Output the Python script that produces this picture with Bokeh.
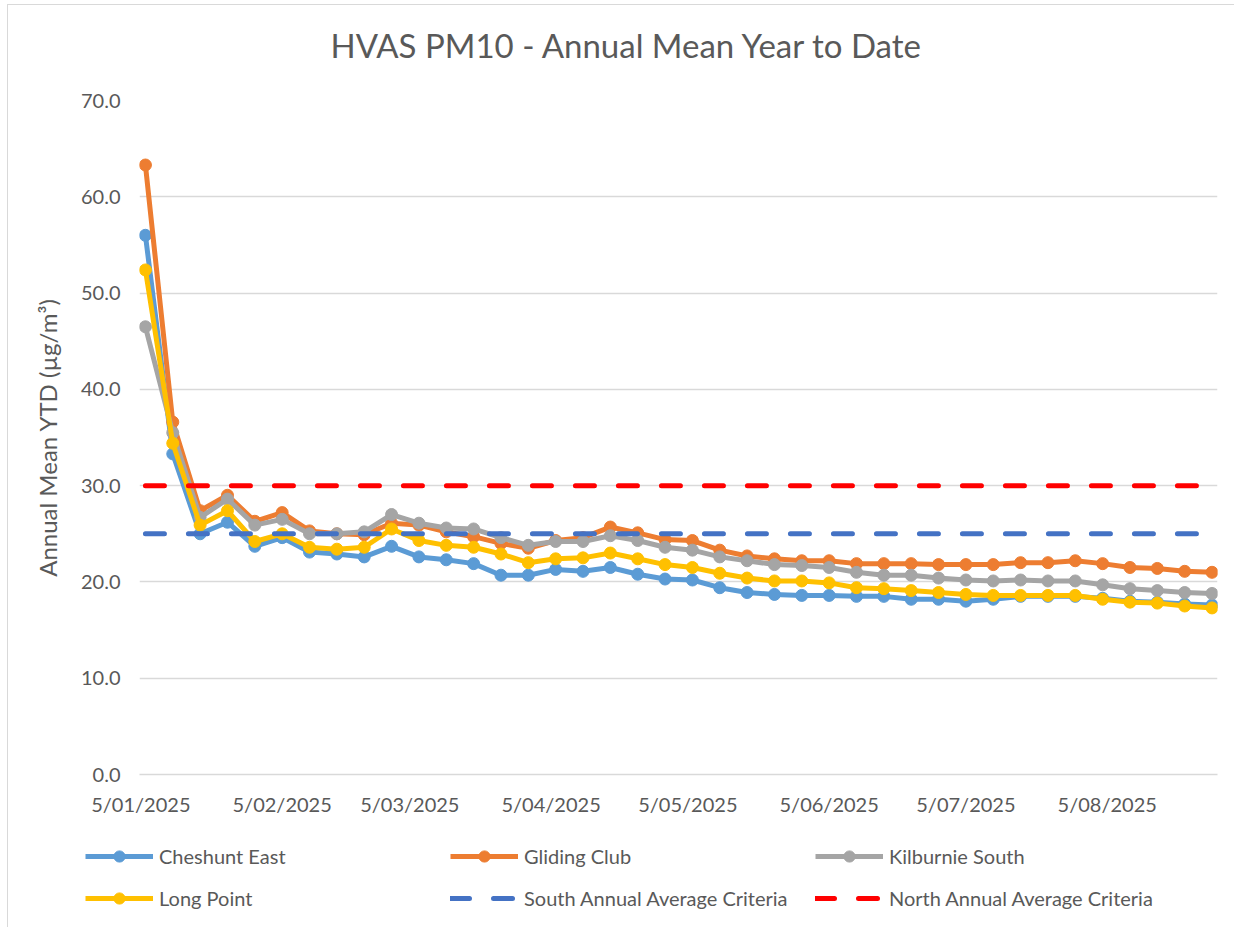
import pandas as pd
from bokeh.plotting import figure
from bokeh.layouts import column
from bokeh.models import (Range1d, FixedTicker, CustomJSTickFormatter, Legend, LegendItem,
                          NumeralTickFormatter, ColumnDataSource, Title)
from bokeh.embed import file_html
from bokeh.resources import INLINE

# ---------------- data ----------------
sample_dates = [
    "2025-01-06", "2025-01-12", "2025-01-18", "2025-01-24", "2025-01-30",
    "2025-02-05", "2025-02-11", "2025-02-17", "2025-02-23", "2025-03-01",
    "2025-03-07", "2025-03-13", "2025-03-19", "2025-03-25", "2025-03-31",
    "2025-04-06", "2025-04-12", "2025-04-18", "2025-04-24", "2025-04-30",
    "2025-05-06", "2025-05-12", "2025-05-18", "2025-05-24", "2025-05-30",
    "2025-06-05", "2025-06-11", "2025-06-17", "2025-06-23", "2025-06-29",
    "2025-07-05", "2025-07-11", "2025-07-17", "2025-07-23", "2025-07-29",
    "2025-08-04", "2025-08-10", "2025-08-16", "2025-08-22", "2025-08-28",
]

cheshunt_east = [56.0, 33.3, 25.0, 26.2, 23.7, 24.6, 23.1, 22.9, 22.6, 23.7,
                 22.6, 22.3, 21.9, 20.7, 20.7, 21.3, 21.1, 21.5, 20.8, 20.3,
                 20.2, 19.4, 18.9, 18.7, 18.6, 18.6, 18.5, 18.5, 18.2, 18.2,
                 18.0, 18.2, 18.5, 18.5, 18.5, 18.3, 18.0, 17.9, 17.7, 17.6]
gliding_club = [63.3, 36.6, 27.4, 29.0, 26.3, 27.2, 25.3, 25.0, 24.9, 26.1,
                25.9, 25.2, 24.7, 24.0, 23.5, 24.3, 24.6, 25.7, 25.1, 24.4,
                24.3, 23.3, 22.7, 22.4, 22.2, 22.2, 21.9, 21.9, 21.9, 21.8,
                21.8, 21.8, 22.0, 22.0, 22.2, 21.9, 21.5, 21.4, 21.1, 21.0]
kilburnie_south = [46.5, 35.5, 26.7, 28.6, 25.9, 26.5, 25.0, 25.0, 25.2, 27.0,
                   26.1, 25.6, 25.5, 24.6, 23.8, 24.2, 24.2, 24.8, 24.3, 23.6,
                   23.3, 22.6, 22.2, 21.8, 21.7, 21.5, 21.0, 20.7, 20.7, 20.4,
                   20.2, 20.1, 20.2, 20.1, 20.1, 19.7, 19.3, 19.1, 18.9, 18.8]
long_point = [52.4, 34.4, 25.9, 27.4, 24.2, 25.0, 23.6, 23.4, 23.6, 25.5,
              24.3, 23.8, 23.6, 22.9, 22.0, 22.4, 22.5, 23.0, 22.4, 21.8,
              21.5, 20.9, 20.4, 20.1, 20.1, 19.9, 19.4, 19.3, 19.1, 18.9,
              18.7, 18.6, 18.6, 18.6, 18.6, 18.2, 17.9, 17.8, 17.5, 17.3]
south_criteria = 25.0
north_criteria = 30.0

tick_dates = ["2025-01-05", "2025-02-05", "2025-03-05", "2025-04-05",
              "2025-05-05", "2025-06-05", "2025-07-05", "2025-08-05"]
y_ticks = [0, 10, 20, 30, 40, 50, 60, 70]

series_names = ["Cheshunt East", "Gliding Club", "Kilburnie South", "Long Point"]
series_values = [cheshunt_east, gliding_club, kilburnie_south, long_point]
series_colors = ["#5B9BD5", "#ED7D31", "#A5A5A5", "#FFC000"]
criteria_names = ["South Annual Average Criteria", "North Annual Average Criteria"]
criteria_values = [south_criteria, north_criteria]
criteria_colors = ["#4472C4", "#FF0000"]

# ---------------- styling ----------------
FONT = "Lato"
TXT = "#595959"
GRID = "#d9d9d9"
W = 1226
H_MAIN = 819
H_LEG = 103

x = pd.to_datetime(sample_dates)
day_ms = 86400000.0
x_start = pd.Timestamp("2025-01-05").value / 1e6 - 0.3 * day_ms
x_end = pd.Timestamp(sample_dates[-1]).value / 1e6 + 1.2 * day_ms

p = figure(width=W, height=H_MAIN, output_backend="svg", toolbar_location=None,
           x_axis_type="datetime", title=None,
           x_range=Range1d(x_start, x_end), y_range=Range1d(0, 70),
           min_border_left=131, min_border_right=17, min_border_top=95, min_border_bottom=50)
p.outline_line_color = None
p.background_fill_color = "white"
p.border_fill_color = "white"

# spacer title (closest to the frame) then the real title above it
p.add_layout(Title(text=" ", text_font=FONT, text_font_size="28px", standoff=0), "above")
p.add_layout(Title(text="HVAS PM10 - Annual Mean Year to Date", align="left", offset=191,
                   text_font=FONT, text_font_size="33px", text_font_style="normal",
                   text_color=TXT, standoff=0), "above")

# axes
p.xaxis.ticker = FixedTicker(ticks=[pd.Timestamp(d).value / 1e6 for d in tick_dates])
p.xaxis.formatter = CustomJSTickFormatter(code="""
const d = new Date(tick);
return d.getUTCDate() + "/" + String(d.getUTCMonth() + 1).padStart(2, "0") + "/" + d.getUTCFullYear();
""")
p.yaxis.ticker = FixedTicker(ticks=y_ticks)
p.yaxis.formatter = NumeralTickFormatter(format="0.0")
for ax in (p.xaxis, p.yaxis):
    ax.major_tick_line_color = None
    ax.minor_tick_line_color = None
    ax.major_label_text_font = FONT
    ax.major_label_text_font_size = "20px"
    ax.major_label_text_color = TXT
p.xaxis.axis_line_color = GRID
p.xaxis.axis_line_width = 1.3
p.yaxis.axis_line_color = None
p.xaxis.major_label_standoff = 11
p.yaxis.major_label_standoff = 13
p.yaxis.axis_label = "Annual Mean YTD (µg/m³)"
p.yaxis.axis_label_text_font = FONT
p.yaxis.axis_label_text_font_size = "24px"
p.yaxis.axis_label_text_font_style = "normal"
p.yaxis.axis_label_text_color = TXT
p.yaxis.axis_label_standoff = 16

p.xgrid.grid_line_color = None
p.ygrid.grid_line_color = GRID
p.ygrid.grid_line_width = 1.3

# legend strip below the chart (a second figure whose frame is shifted left)
leg = figure(width=W, height=H_LEG, output_backend="svg", toolbar_location=None,
             x_range=Range1d(0, 1), y_range=Range1d(0, 1),
             min_border_left=0, min_border_right=0, min_border_top=0, min_border_bottom=0,
             styles={"transform": "translateX(-54px)"})
leg.axis.visible = False
leg.grid.visible = False
leg.outline_line_color = None
leg.background_fill_color = "white"
leg.border_fill_alpha = 0
leg.background_fill_alpha = 0
hidden = ColumnDataSource(dict(x=[-5.0], y=[-5.0]))

items = []
for name, vals, col in zip(series_names, series_values, series_colors):
    src = ColumnDataSource(dict(x=x, y=vals))
    p.line("x", "y", source=src, line_color=col, line_width=5, line_join="round")
    p.scatter("x", "y", source=src, size=12, fill_color=col, line_color=col)
    l2 = leg.line("x", "y", source=hidden, line_color=col, line_width=5)
    s2 = leg.scatter("x", "y", source=hidden, size=12, fill_color=col, line_color=col)
    items.append(LegendItem(label=name, renderers=[l2, s2]))

for name, v, col in zip(criteria_names, criteria_values, criteria_colors):
    src = ColumnDataSource(dict(x=x, y=[v] * len(x)))
    p.line("x", "y", source=src, line_color=col, line_width=5,
           line_dash="19 24", line_cap="round")
    l2 = leg.line("x", "y", source=hidden, line_color=col, line_width=5,
                  line_dash="19 24", line_cap="round")
    items.append(LegendItem(label=name, renderers=[l2]))

legend = Legend(items=items, location=(0, 15), orientation="horizontal", ncols=3,
                glyph_width=68, glyph_height=28, label_height=28, label_width=277,
                label_standoff=6, spacing=14, padding=0, margin=0,
                border_line_color=None, background_fill_alpha=0,
                label_text_font=FONT, label_text_font_size="20px", label_text_color=TXT)
leg.add_layout(legend, "center")

layout = column(p, leg, spacing=0,
                styles={"margin-left": "7px", "margin-top": "4px",
                        "border-left": "1px solid #d9d9d9", "border-top": "1px solid #d9d9d9"})

open("out.html", "w").write(file_html(layout, INLINE))
